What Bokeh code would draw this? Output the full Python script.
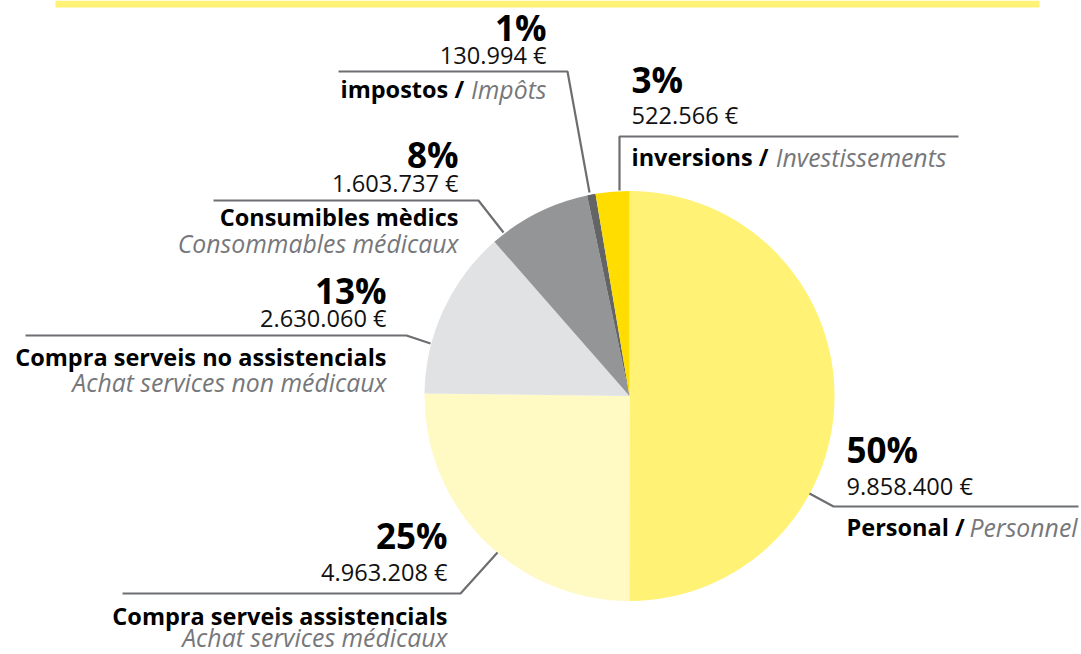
import math
from bokeh.plotting import figure
from bokeh.models import Range1d
from bokeh.core.properties import value
from bokeh.embed import file_html
from bokeh.resources import INLINE

# ---- data ----
categories_ca = ["Personal", "Compra serveis assistencials", "Compra serveis no assistencials",
                 "Consumibles mèdics", "impostos", "inversions"]
categories_fr = ["Personnel", "Achat services médicaux", "Achat services non médicaux",
                 "Consommables médicaux", "Impôts", "Investissements"]
amounts = [9858400, 4963208, 2630060, 1603737, 130994, 522566]
colors = ["#FFF275", "#FFF9C4", "#E1E2E4", "#949597", "#636466", "#FFDD00"]

# ---- layout (reference pixel coordinates) ----
W, H = 1081, 654
REF_H = 654

def Y(y):
    return REF_H - y

FONT = value("Open Sans")
LINE_C = "#6D6E71"
GRAY_T = "#76777A"
BASE_SHIFT = 0.43  # em correction for baseline placement

p = figure(width=W, height=H, x_range=Range1d(0, W), y_range=Range1d(0, REF_H),
           output_backend="svg", toolbar_location=None, x_axis_location=None, y_axis_location=None,
           min_border=0, background_fill_color="white", border_fill_color="white")
p.grid.visible = False
p.outline_line_color = None

# top yellow band
p.quad(left=[55], right=[1039], top=[Y(0)], bottom=[Y(7)], fill_color="#FFF275", line_color=None)

# pie
CX, CY, R = 629, Y(395.5), 205
total = sum(amounts)
cum = 0.0
starts, ends = [], []
for a in amounts:
    f0 = cum / total
    cum += a
    f1 = cum / total
    starts.append(math.pi / 2 - f1 * 2 * math.pi)
    ends.append(math.pi / 2 - f0 * 2 * math.pi)
p.wedge(x=[CX] * len(amounts), y=[CY] * len(amounts), radius=R, start_angle=starts, end_angle=ends,
        fill_color=colors, line_color=None)

def txt(x, y, s, size, style="normal", color="#000000", align="left", shift=BASE_SHIFT):
    p.text(x=[x], y=[Y(y - shift * size)], text=[s], text_font=FONT, text_font_size=f"{size:.2f}px",
           text_font_style=style, text_color=color, text_align=align, text_baseline="alphabetic")

def fmt_amount(v):
    return f"{v:,}".replace(",", ".") + " €"

def pct(v):
    return f"{round(v / total * 100)}%"

PCT_SIZE, AMT_SIZE, NAME_SIZE, IT_SIZE = 35, 23.6, 23.5, 24.8

layout = [
    dict(x=846, align="left", yp=462, ya=496, line=[(809, 493), (833, 506), (1078, 506)],
         inline=True, yn=537, x_it=1077),
    dict(x=447, align="right", yp=548, ya=582, line=[(122, 593), (460, 593), (497, 552)],
         inline=False, yn=626, yi=647),
    dict(x=386, align="right", yp=303, ya=328, line=[(25, 335), (406, 335), (430, 343)],
         inline=False, yn=367, yi=392),
    dict(x=458, align="right", yp=167, ya=193, line=[(213, 200), (478, 200), (503, 232)],
         inline=False, yn=227, yi=253),
    dict(x=546, align="right", yp=40, ya=65, line=[(338, 71), (567, 71), (589, 192)],
         inline=True, yn=99, x_b=340),
    dict(x=631, align="left", yp=92, ya=125, line=[(958, 136), (619, 136), (619, 190)],
         inline=True, yn=167, x_it=946),
]

for i, L in enumerate(layout):
    xs = [pt[0] for pt in L["line"]]
    ys = [Y(pt[1]) for pt in L["line"]]
    p.line(xs, ys, line_color=LINE_C, line_width=2.2)
    txt(L["x"], L["yp"], pct(amounts[i]), PCT_SIZE, "bold", "#000000", L["align"], 0.38)
    txt(L["x"], L["ya"], fmt_amount(amounts[i]), AMT_SIZE, "normal", "#111111", L["align"])
    if L["inline"]:
        if L["align"] == "left":
            txt(L["x"], L["yn"], categories_ca[i] + " /", NAME_SIZE, "bold", "#000000", "left")
            txt(L["x_it"], L["yn"], categories_fr[i], IT_SIZE, "italic", GRAY_T, "right")
        else:
            txt(L["x_b"], L["yn"], categories_ca[i] + " /", NAME_SIZE, "bold", "#000000", "left")
            txt(L["x"], L["yn"], categories_fr[i], IT_SIZE, "italic", GRAY_T, "right")
    else:
        txt(L["x"], L["yn"], categories_ca[i], NAME_SIZE, "bold", "#000000", L["align"])
        txt(L["x"], L["yi"], categories_fr[i], IT_SIZE, "italic", GRAY_T, L["align"])

open("out.html", "w").write(file_html(p, INLINE))
